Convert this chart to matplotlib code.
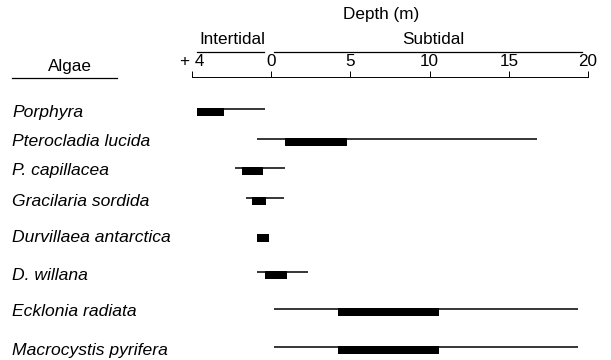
import numpy as np
import matplotlib
matplotlib.use("Agg")
import matplotlib.pyplot as plt
import matplotlib.transforms as mtransforms
from matplotlib.lines import Line2D

plt.rcParams['font.family'] = ['Liberation Sans', 'DejaVu Sans']

# Data: depth in metres; negative values = height above datum (intertidal)
species = ["Porphyra", "Pterocladia lucida", "P. capillacea", "Gracilaria sordida",
           "Durvillaea antarctica", "D. willana", "Ecklonia radiata", "Macrocystis pyrifera"]
range_min = [-3.75, -0.7, -1.85, -1.25, np.nan, -0.7, 0.2, 0.2]
range_max = [-0.3, 16.8, 0.9, 0.8, np.nan, 2.3, 19.4, 19.4]
abund_min = [-3.75, 0.9, -1.5, -0.95, -0.7, -0.3, 4.2, 4.2]
abund_max = [-2.4, 4.8, -0.4, -0.25, -0.1, 1.0, 10.6, 10.6]
tick_vals = [-4, 0, 5, 10, 15, 20]
tick_labels = ["+ 4", "0", "5", "10", "15", "20"]

# layout (pixel rows of each species, figure is 611x360)
W, H = 611, 360
row_px = [112, 142, 171, 201, 238, 275, 312, 350]
fs = 12.3

fig = plt.figure(figsize=(W / 100, H / 100), dpi=100)
ax_left, ax_right, ax_top = 192, 588, 77
ax = fig.add_axes([ax_left / W, 0, (ax_right - ax_left) / W, 1 - ax_top / H])

# intertidal part drawn at a larger scale than subtidal
k = 1.25
def fwd(x):
    x = np.asarray(x, dtype=float)
    return np.where(x < 0, k * x, x)
def inv(x):
    x = np.asarray(x, dtype=float)
    return np.where(x < 0, x / k, x)
ax.set_xscale('function', functions=(fwd, inv))
ax.set_xlim(-4, 20)
ax.set_ylim(H, ax_top)

bar_h = 8
for i, sp in enumerate(species):
    y = row_px[i]
    top = y - bar_h / 2
    ax.barh(top, abund_max[i] - abund_min[i], left=abund_min[i], height=bar_h,
            align='edge', color='black', edgecolor='none')
    if not np.isnan(range_min[i]):
        ax.hlines(top + 0.5, range_min[i], range_max[i], color='black', lw=1.1)
    fig.text(12 / W, 1 - y / H, sp, style='italic', fontsize=12.6,
             ha='left', va='center')

for s in ['bottom', 'left', 'right']:
    ax.spines[s].set_visible(False)
ax.spines['top'].set_linewidth(0.7)
ax.xaxis.tick_top()
ax.set_xticks(tick_vals)
ax.set_xticklabels(tick_labels, fontsize=fs)
ax.tick_params(axis='x', direction='out', length=4, width=0.7, pad=2)
ax.set_yticks([])
ax.xaxis.set_minor_locator(matplotlib.ticker.NullLocator())

# header
blend = mtransforms.blended_transform_factory(ax.transData, fig.transFigure)
fig.text(381 / W, 1 - 15 / H, "Depth (m)", fontsize=fs, ha='center', va='center')
fig.text(232 / W, 1 - 40 / H, "Intertidal", fontsize=fs, ha='center', va='center')
fig.text(433 / W, 1 - 40 / H, "Subtidal", fontsize=fs, ha='center', va='center')
yl = 1 - 52 / H
fig.add_artist(Line2D([-3.75, -0.35], [yl, yl], transform=blend, color='black', lw=0.9))
fig.add_artist(Line2D([0.2, 19.6], [yl, yl], transform=blend, color='black', lw=0.9))
fig.text(70 / W, 1 - 66 / H, "Algae", fontsize=fs, ha='center', va='center')
fig.add_artist(Line2D([12 / W, 117 / W], [1 - 78 / H, 1 - 78 / H],
                      transform=fig.transFigure, color='black', lw=0.9))

fig.savefig("out.png", dpi=100)
